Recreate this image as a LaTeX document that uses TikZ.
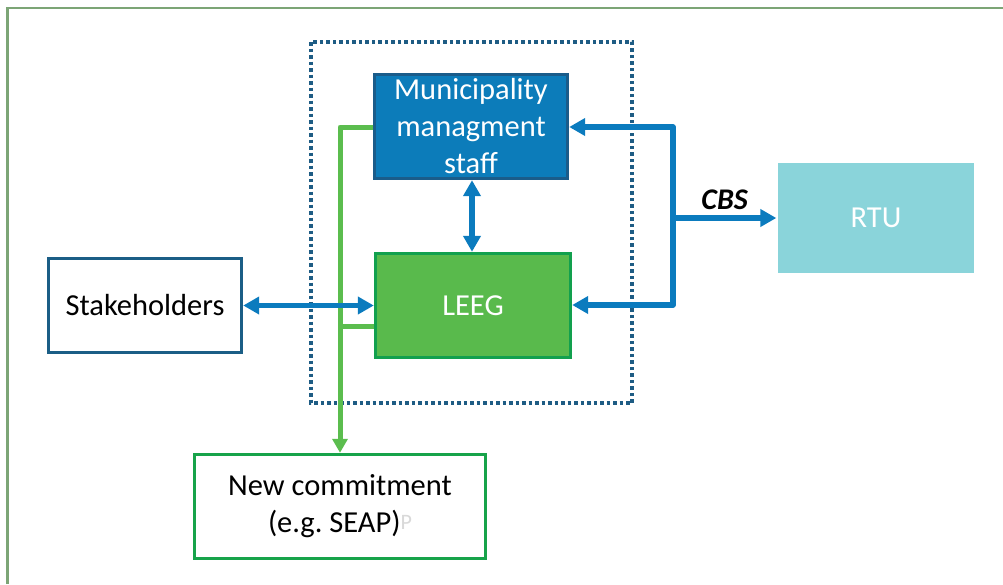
\documentclass[tikz,border=0pt]{standalone}
\usepackage{fontspec}
\setmainfont{Carlito}
\usetikzlibrary{arrows.meta}
\frenchspacing

\definecolor{framegreen}{RGB}{124,165,118}
\definecolor{dotblue}{RGB}{30,92,132}
\definecolor{munfill}{RGB}{12,124,186}
\definecolor{munedge}{RGB}{26,92,138}
\definecolor{leegfill}{RGB}{89,186,76}
\definecolor{leegedge}{RGB}{18,160,78}
\definecolor{stakeedge}{RGB}{27,94,134}
\definecolor{rtufill}{RGB}{138,212,218}
\definecolor{ncedge}{RGB}{23,163,74}
\definecolor{arrowblue}{RGB}{11,123,190}
\definecolor{linegreen}{RGB}{91,189,78}

\tikzset{
  box/.style={rectangle, line width=3.4pt, align=center, inner sep=2pt,
    font=\fontsize{30.5}{37}\selectfont},
  bluelink/.style={draw=arrowblue, line width=5.5pt, line join=round,
    arrows={-Triangle[length=16pt,width=17pt]}},
  bluebi/.style={bluelink, arrows={Triangle[length=16pt,width=17pt]-Triangle[length=16pt,width=17pt]}},
  greenlink/.style={draw=linegreen, line width=5pt, line join=round},
}

\begin{document}
\begin{tikzpicture}[x=1pt, y=-1pt]
  \useasboundingbox (0,0) rectangle (1003,584);

  % page frame
  \draw[framegreen, line width=2.2pt] (7.5,584) -- (7.5,8) -- (1003,8);

  % dotted grouping box
  \draw[dotblue, line width=3.5pt, dash pattern=on 3.5pt off 3pt]
    (311,42) rectangle (632,403);

  % boxes
  \node[box, fill=munfill, draw=munedge, text=white,
        minimum width=193pt, minimum height=104pt] (mun) at (471,126.5)
        {Municipality\\managment\\staff};
  \node[box, fill=leegfill, draw=leegedge, text=white,
        minimum width=195pt, minimum height=104pt] (leeg) at (473,305.5) {LEEG};
  \node[box, fill=white, draw=stakeedge, text=black,
        minimum width=193pt, minimum height=94pt] (stake) at (145,305.5) {Stakeholders};
  \node[box, fill=rtufill, draw=none, text=white,
        minimum width=196pt, minimum height=110pt] (rtu) at (876,218) {RTU};
  \node[box, fill=white, draw=ncedge, text=black,
        minimum width=291pt, minimum height=104pt] (nc) at (340,506.5)
        {New commitment\\(e.g. SEAP)\textcolor{black!15}{\fontsize{22}{22}\selectfont\raisebox{3pt}{P}}};

  % green feedback line into the new commitment
  \coordinate (gtop) at (340,127);
  \coordinate (gmid) at (340,326);
  \draw[greenlink, arrows={-Triangle[length=14pt,width=15pt]}]
    (mun.west |- gtop) -- (gtop) -- (nc.north);
  \draw[greenlink] (leeg.west |- gmid) -- (gmid);

  % blue links
  \draw[bluebi] (mun.south -| 472,0) -- (leeg.north -| 472,0);
  \draw[bluebi] (stake.east) -- (leeg.west);

  \coordinate (btop) at (673,127);
  \coordinate (bbot) at (673,305);
  \coordinate (bmid) at (673,218);
  \draw[bluebi] (mun.east |- btop) -- (btop) -- (bbot) -- (leeg.east |- bbot);
  \draw[bluelink] (bmid) -- (rtu.west)
    node[midway, above=2pt, font=\fontsize{30}{32}\selectfont\bfseries\itshape, text=black] (cbs) {CBS};
\end{tikzpicture}
\end{document}
